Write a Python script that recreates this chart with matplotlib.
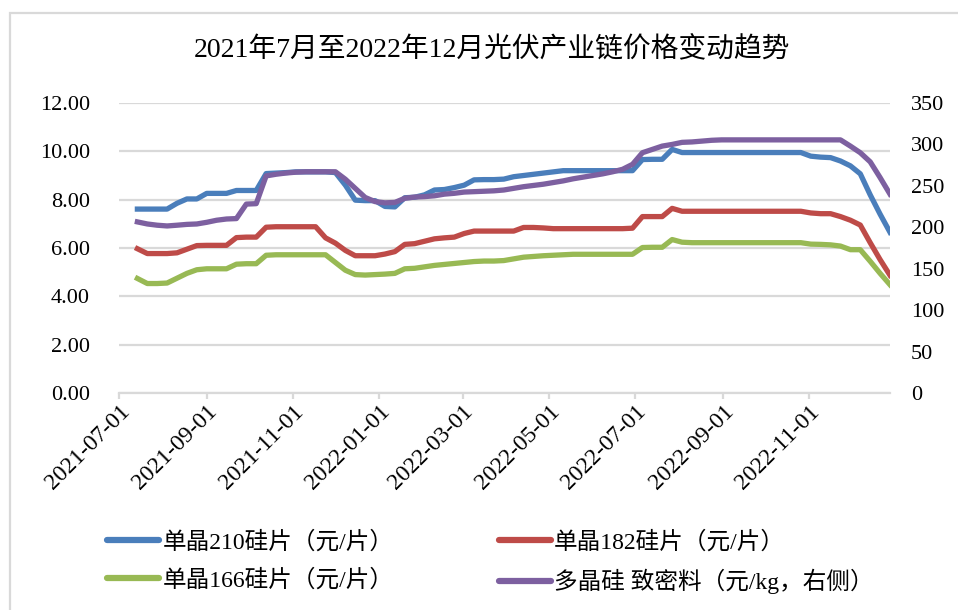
import matplotlib
matplotlib.use("Agg")
import matplotlib.pyplot as plt
import matplotlib.dates as mdates
from matplotlib.lines import Line2D
from matplotlib.patches import Rectangle
import pandas as pd

plt.rcParams['font.family'] = ['Liberation Serif', 'Noto Sans CJK SC']

# weekly price observations
dates = pd.date_range('2021-07-14', periods=77, freq='7D')

mono210 = [7.61, 7.61, 7.61, 7.61, 7.85, 8.03, 8.03, 8.26, 8.26, 8.26,
           8.38, 8.38, 8.38, 9.08, 9.10, 9.12, 9.15, 9.15, 9.15, 9.15,
           9.12, 8.60, 7.98, 7.96, 7.96, 7.72, 7.70, 8.08, 8.10, 8.20,
           8.40, 8.42, 8.50, 8.60, 8.82, 8.83, 8.83, 8.85, 8.95, 9.00,
           9.05, 9.10, 9.15, 9.20, 9.20, 9.20, 9.20, 9.20, 9.20, 9.20,
           9.20, 9.66, 9.67, 9.67, 10.08, 9.95, 9.95, 9.95, 9.95, 9.95,
           9.95, 9.95, 9.95, 9.95, 9.95, 9.95, 9.95, 9.95, 9.80, 9.76,
           9.74, 9.60, 9.40, 9.07, 8.20, 7.40, 6.65]

mono182 = [5.97, 5.77, 5.77, 5.77, 5.80, 5.95, 6.10, 6.11, 6.11, 6.11,
           6.43, 6.45, 6.45, 6.86, 6.88, 6.88, 6.88, 6.88, 6.88, 6.42,
           6.20, 5.90, 5.68, 5.68, 5.68, 5.75, 5.85, 6.15, 6.18, 6.28,
           6.38, 6.42, 6.45, 6.60, 6.70, 6.70, 6.70, 6.70, 6.70, 6.85,
           6.85, 6.83, 6.80, 6.80, 6.80, 6.80, 6.80, 6.80, 6.80, 6.80,
           6.82, 7.30, 7.30, 7.30, 7.64, 7.52, 7.52, 7.52, 7.52, 7.52,
           7.52, 7.52, 7.52, 7.52, 7.52, 7.52, 7.52, 7.52, 7.45, 7.42,
           7.42, 7.30, 7.15, 6.95, 6.22, 5.52, 4.87]

mono166 = [4.74, 4.53, 4.53, 4.55, 4.75, 4.95, 5.10, 5.14, 5.14, 5.14,
           5.33, 5.35, 5.35, 5.70, 5.72, 5.72, 5.72, 5.72, 5.72, 5.72,
           5.40, 5.08, 4.90, 4.88, 4.90, 4.92, 4.95, 5.14, 5.16, 5.22,
           5.28, 5.32, 5.36, 5.40, 5.44, 5.46, 5.46, 5.48, 5.55, 5.62,
           5.65, 5.68, 5.70, 5.72, 5.74, 5.74, 5.74, 5.74, 5.74, 5.74,
           5.74, 6.02, 6.03, 6.03, 6.35, 6.24, 6.22, 6.22, 6.22, 6.22,
           6.22, 6.22, 6.22, 6.22, 6.22, 6.22, 6.22, 6.22, 6.16, 6.15,
           6.13, 6.08, 5.93, 5.93, 5.45, 4.95, 4.48]

poly = [206.5, 204, 202.5, 201.6, 202.5, 203.5, 204, 206, 208.5, 210,
        210.5, 228, 228.5, 262, 264, 265.5, 266.5, 267, 267, 267,
        267, 258, 247, 236, 231, 229.5, 230, 235, 236.5, 237,
        238, 240, 241, 242.5, 243, 243.5, 244, 245, 247, 249,
        250.5, 252, 254, 256, 258.5, 260.5, 262.5, 264.5, 267, 270,
        276, 290, 294, 298, 300, 302.5, 303, 304, 305, 305.5,
        305.5, 305.5, 305.5, 305.5, 305.5, 305.5, 305.5, 305.5, 305.5, 305.5,
        305.5, 305.5, 298, 290, 279, 260, 240]

labels = ['单晶210硅片（元/片）', '单晶182硅片（元/片）',
          '单晶166硅片（元/片）', '多晶硅 致密料（元/kg，右侧）']
colors = ['#4A7EBB', '#BE4B48', '#98B954', '#7D60A0']
left_ticks = [0, 2, 4, 6, 8, 10, 12]
right_ticks = [0, 50, 100, 150, 200, 250, 300, 350]
x_ticks = ['2021-07-01', '2021-09-01', '2021-11-01', '2022-01-01', '2022-03-01',
           '2022-05-01', '2022-07-01', '2022-09-01', '2022-11-01']

fig = plt.figure(figsize=(9.58, 6.10), dpi=100)
ax = fig.add_axes([119 / 958, 1 - 393 / 610, 771 / 958, 290 / 610])
ax2 = ax.twinx()

lw = 3.8
ax.plot(dates, mono210, color=colors[0], lw=lw, solid_joinstyle='round')
ax.plot(dates, mono182, color=colors[1], lw=lw, solid_joinstyle='round')
ax.plot(dates, mono166, color=colors[2], lw=lw, solid_joinstyle='round')
ax2.plot(dates, poly, color=colors[3], lw=lw, solid_joinstyle='round')

grid_c = '#D9D9D9'
ax.set_ylim(0, 12)
ax2.set_ylim(0, 350)
ax.set_yticks(left_ticks)
ax.set_yticklabels([f'{v:.2f}' for v in left_ticks])
ax2.set_yticks(right_ticks)
ax.yaxis.grid(True, color=grid_c, lw=1.6)
ax.set_axisbelow(True)

ax.set_xlim(pd.Timestamp('2021-07-01'), pd.Timestamp('2022-12-28'))
ax.set_xticks(pd.to_datetime(x_ticks))
ax.xaxis.set_major_formatter(mdates.DateFormatter('%Y-%m-%d'))
for lab in ax.get_xticklabels():
    lab.set_rotation(45)
    lab.set_ha('right')
    lab.set_rotation_mode('anchor')

for a in (ax, ax2):
    for s in ('left', 'right', 'top', 'bottom'):
        a.spines[s].set_visible(False)
ax.spines['bottom'].set_visible(True)
ax.spines['bottom'].set_color(grid_c)
ax.spines['bottom'].set_linewidth(1.6)

ax.tick_params(axis='y', length=0, labelsize=16, pad=21)
ax2.tick_params(axis='y', length=0, labelsize=16, pad=15)
ax.tick_params(axis='x', length=4, width=1.6, color=grid_c, labelsize=17, pad=2)

fig.text(0.514, 0.918, '2021年7月至2022年12月光伏产业链价格变动趋势',
         ha='center', va='center', fontsize=20)

handles = [Line2D([], [], color=c, lw=4.5, solid_capstyle='round') for c in colors]
order = [0, 2, 1, 3]
fig.legend([handles[i] for i in order], [labels[i] for i in order],
           ncol=2, loc='upper left', bbox_to_anchor=(107 / 958, 1 - 531 / 610),
           frameon=False, fontsize=17, handlelength=2.2, handletextpad=0.15,
           columnspacing=4.45, labelspacing=0.66, borderaxespad=0, borderpad=0)

fig.patches.append(Rectangle((10 / 958, -0.1), 1.2, 1.1 - 13 / 610,
                             transform=fig.transFigure, fill=False,
                             edgecolor=grid_c, lw=1.6))

fig.savefig('out.png', dpi=100)
